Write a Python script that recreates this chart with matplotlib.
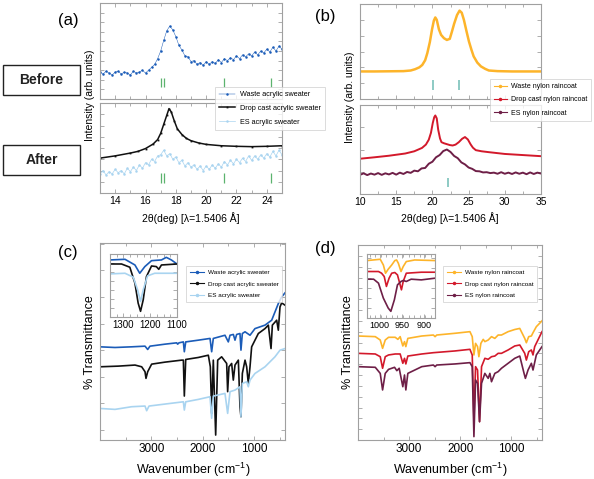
import matplotlib.pyplot as plt
import numpy as np
from matplotlib.patches import Rectangle
from matplotlib.lines import Line2D

plt.rcParams['font.family'] = ['Liberation Sans', 'DejaVu Sans']
plt.rcParams['mathtext.fontset'] = 'custom'
plt.rcParams['mathtext.rm'] = 'Liberation Sans'

# ---------------- XRD (a): acrylic sweater ----------------
xa_grid = np.linspace(13, 25, 61)
waste_acr = [2.8, 2.6, 2.9, 2.7, 2.5, 2.8, 2.9, 2.6, 2.8, 2.7,
             2.5, 2.9, 2.7, 2.8, 3.0, 2.7, 3.0, 3.3, 3.6, 4.2,
             5.0, 6.1, 7.1, 7.6, 7.2, 6.5, 5.6, 5.1, 4.5, 4.4,
             3.9, 4.0, 3.6, 3.8, 3.5, 3.9, 3.6, 3.9, 3.7, 4.1,
             3.8, 4.2, 4.0, 4.3, 4.1, 4.5, 4.2, 4.6, 4.4, 4.7,
             4.5, 4.9, 4.6, 5.0, 4.8, 5.2, 4.9, 5.4, 5.0, 5.5, 5.2]
es_acr = [1.7, 2.0, 1.6, 1.9, 1.7, 2.1, 1.8, 2.0, 1.7, 2.2,
          1.9, 2.3, 2.0, 2.5, 2.2, 2.7, 2.5, 3.0, 2.8, 3.3,
          3.4, 3.8, 3.3, 3.5, 3.0, 3.2, 2.7, 2.9, 2.4, 2.7,
          2.3, 2.5, 2.1, 2.4, 2.0, 2.4, 2.1, 2.5, 2.2, 2.6,
          2.3, 2.8, 2.5, 2.9, 2.6, 3.0, 2.7, 3.1, 2.8, 3.3,
          2.9, 3.3, 3.0, 3.4, 3.1, 3.5, 3.2, 3.7, 3.3, 3.8, 3.4]
drop_acr_x = [13, 14, 15, 15.5, 16, 16.5, 16.8, 17.0, 17.2, 17.4, 17.55, 17.7,
              17.9, 18.1, 18.4, 18.7, 19.0, 19.5, 20, 21, 22, 23, 24, 25]
drop_acr_y = [3.1, 3.3, 3.55, 3.7, 3.95, 4.35, 4.75, 5.3, 6.1, 6.9, 7.5, 7.2,
              6.4, 5.7, 5.2, 4.85, 4.65, 4.45, 4.32, 4.2, 4.15, 4.12, 4.15, 4.2]
ref_a = [17.0, 17.2, 21.2, 24.3]

# ---------------- XRD (b): nylon raincoat ----------------
waste_nyl_x = [10, 12, 14, 16, 17, 17.6, 18.2, 18.6, 19.0, 19.3, 19.65, 19.95, 20.2,
               20.4, 20.6, 20.9, 21.2, 21.6, 22.0, 22.4, 22.7, 23.0, 23.4, 23.75,
               24.05, 24.35, 24.7, 25.05, 25.4, 25.7, 26.2, 26.7, 27.3, 27.8, 29,
               31, 33, 35]
waste_nyl_y = [1.74, 1.74, 1.75, 1.76, 1.8, 1.88, 2.0, 2.15, 2.45, 2.9, 3.6, 4.4, 4.95,
               5.15, 5.0, 4.4, 4.05, 3.84, 3.73, 3.8, 4.26, 4.75, 5.3, 5.58,
               5.45, 5.0, 4.3, 3.63, 3.1, 2.69, 2.3, 2.06, 1.9, 1.8, 1.76,
               1.74, 1.74, 1.74]
drop_nyl_x = [10, 12, 14, 16.25, 17.5, 18.56, 19.1, 19.5, 19.8, 20.05, 20.25, 20.4,
              20.6, 20.8, 21.05, 21.25, 21.6, 22.0, 22.4, 22.8, 23.2, 23.65, 24.1,
              24.5, 24.9, 25.3, 25.6, 26.0, 26.8, 27.8, 30, 32.5, 35]
drop_nyl_y = [1.585, 1.65, 1.72, 1.82, 1.92, 2.07, 2.22, 2.44, 2.75, 3.19, 3.45, 3.53,
              3.4, 2.89, 2.5, 2.33, 2.28, 2.24, 2.2, 2.18, 2.22, 2.33, 2.48,
              2.56, 2.45, 2.22, 2.08, 1.97, 1.92, 1.88, 1.8, 1.75, 1.7]
es_nyl_x = np.linspace(10, 35, 51)
es_nyl_y = [0.86, 0.93, 0.85, 0.92, 0.87, 0.94, 0.86, 0.93, 0.88, 0.95,
            0.87, 0.96, 0.90, 0.99, 0.95, 1.05, 1.02, 1.15, 1.17, 1.36,
            1.45, 1.65, 1.75, 1.93, 2.00, 1.89, 1.71, 1.61, 1.42, 1.33,
            1.19, 1.13, 1.03, 1.02, 0.97, 0.98, 0.94, 0.96, 0.91, 0.98,
            0.91, 0.96, 0.90, 0.97, 0.91, 0.96, 0.89, 0.97, 0.90, 0.96, 0.92]
ref_b_top = [20.05, 23.65]
ref_b_bot = [22.2]

# ---------------- FTIR (c): acrylic sweater ----------------
c_waste_x = [4000, 3708, 3384, 3124, 3072, 3027, 2735, 2508, 2489, 2463, 2378, 2359,
             2332, 2087, 1859, 1827, 1795, 1568, 1503, 1470, 1405, 1373, 1341, 1276,
             1257, 1230, 1178, 1081, 984, 789, 659, 530, 465, 400]
c_waste_y = [3.125, 3.10, 3.125, 3.15, 3.025, 3.15, 3.225, 3.275, 3.225, 3.275, 3.31, 2.94,
             3.31, 3.375, 3.44, 2.94, 3.44, 3.56, 3.31, 3.56, 3.59, 3.375, 3.59, 3.625,
             3.0, 3.625, 3.69, 3.56, 3.81, 3.94, 4.125, 4.75, 5.0, 5.15]
c_drop_x = [4000, 3643, 3319, 3189, 3124, 3105, 3072, 2995, 2735, 2411, 2378, 2359,
            2332, 2087, 1892, 1853, 1827, 1795, 1749, 1710, 1633, 1535, 1516, 1490,
            1438, 1406, 1373, 1308, 1276, 1257, 1230, 1178, 1146, 1114, 1081, 1049,
            919, 789, 724, 672, 646, 562, 530, 497, 465, 400]
c_drop_y = [2.375, 2.4, 2.44, 2.375, 2.19, 1.94, 2.19, 2.475, 2.55, 2.625, 2.625, 1.275,
            2.65, 2.725, 2.81, 2.375, 0.625, 2.625, -0.19, 2.625, 2.75, 2.5, 1.44, 2.375,
            2.5, 1.875, 2.44, 2.625, 0.875, 0.5, 2.125, 2.625, 2.375, 1.75, 2.375, 3.125,
            3.625, 3.81, 3.94, 3.06, 3.94, 4.125, 3.75, 4.625, 4.775, 4.69]
c_es_x = [4000, 3708, 3384, 3124, 3092, 3046, 2735, 2378, 2359, 2332, 2087, 1859,
          1827, 1795, 1568, 1516, 1470, 1373, 1276, 1257, 1230, 1146, 1114, 1081,
          984, 789, 595, 497, 400]
c_es_y = [0.81, 0.775, 0.875, 0.9, 0.725, 0.9, 0.975, 1.06, 0.75, 1.06, 1.15, 1.25,
          0.44, 1.275, 1.375, 0.625, 1.44, 1.5, 1.625, 0.5, 1.75, 1.81, 1.625, 1.875,
          2.125, 2.375, 2.75, 3.0, 3.06]
ci_waste_x = [1350, 1294, 1257, 1239, 1220, 1195, 1158, 1140, 1121, 1100]
ci_waste_y = [6.34, 6.41, 5.78, 4.86, 5.6, 6.26, 6.34, 6.63, 6.34, 5.89]
ci_drop_x = [1350, 1307, 1276, 1257, 1245, 1236, 1226, 1214, 1195, 1177, 1168, 1158, 1100]
ci_drop_y = [5.89, 5.89, 5.53, 3.76, 1.55, 0.63, 1.92, 4.49, 5.67, 5.6, 5.3, 5.78, 5.89]
ci_es_x = [1350, 1294, 1263, 1247, 1236, 1226, 1210, 1183, 1100]
ci_es_y = [4.79, 4.86, 4.42, 3.02, 1.73, 3.02, 4.57, 4.86, 4.86]

# ---------------- FTIR (d): nylon raincoat ----------------
d_x = [4000, 3662, 3565, 3519, 3467, 3402, 3272, 3220, 3175, 3123, 3090, 3064, 3025,
       2752, 2525, 2492, 2460, 2103, 1810, 1765, 1732, 1700, 1661, 1635, 1596, 1550,
       1518, 1453, 1388, 1323, 1258, 1193, 1063, 933, 835, 738, 706, 660, 608, 576,
       511, 400]
d_waste_y = [9.6, 9.54, 9.23, 8.46, 9.23, 9.48, 9.48, 9.29, 9.54, 8.68, 9.08, 8.62, 9.38,
             9.6, 9.69, 9.54, 9.69, 9.85, 10.0, 9.54, 7.85, 8.92, 8.62, 7.69, 8.92, 9.29,
             9.08, 9.23, 9.54, 9.38, 9.69, 9.69, 10.0, 10.2, 10.3, 9.38, 8.98, 9.54, 9.6, 9.9,
             10.46, 11.0]
d_drop_x = [4000, 3662, 3565, 3519, 3467, 3402, 3272, 3175, 3123, 3090, 3064, 3025, 2752,
            2525, 2103, 1810, 1765, 1732, 1700, 1661, 1622, 1583, 1518, 1453, 1388, 1323,
            1258, 1193, 1063, 933, 835, 738, 706, 660, 608, 576, 543, 400]
d_drop_y = [8.0, 7.94, 7.69, 6.62, 7.69, 7.85, 7.94, 7.94, 7.08, 7.54, 7.02, 7.75, 7.94,
            8.06, 8.22, 8.37, 7.85, 1.85, 6.77, 6.46, 1.69, 6.77, 7.54, 7.45, 7.69, 7.75,
            8.0, 8.0, 8.31, 8.68, 8.77, 8.0, 7.38, 8.15, 8.31, 7.85, 8.62, 10.0]
d_es_x = [4000, 3662, 3565, 3519, 3467, 3402, 3285, 3240, 3194, 3123, 3090, 3064, 3025,
          2752, 2525, 2492, 2460, 2103, 1810, 1765, 1732, 1700, 1661, 1622, 1583, 1518,
          1453, 1420, 1388, 1323, 1258, 1193, 1063, 933, 835, 751, 725, 673, 608, 576,
          511, 400]
d_es_y = [6.77, 6.71, 6.15, 4.62, 6.15, 6.52, 6.71, 6.4, 6.62, 4.92, 6.0, 4.62, 6.15,
          6.77, 6.92, 6.77, 6.92, 7.02, 7.14, 6.77, 0.31, 5.54, 5.23, 1.69, 5.23, 6.15,
          5.69, 6.15, 5.38, 6.15, 6.31, 6.62, 7.08, 7.54, 7.75, 6.15, 5.69, 6.46, 7.08, 6.46,
          7.85, 8.62]
di_waste_x = [1029, 999, 992, 987, 981, 973, 966, 962, 958, 952, 947, 940, 921, 875]
di_waste_y = [5.77, 5.9, 5.33, 4.5, 4.9, 5.33, 5.77, 5.83, 5.5, 4.67, 5.17, 5.67, 5.83, 5.77]
di_drop_x = [1029, 1003, 996, 990, 985, 979, 973, 966, 960, 955, 951, 947, 940, 906, 875]
di_drop_y = [4.67, 4.67, 4.5, 4.17, 3.17, 4.0, 4.5, 4.57, 4.33, 3.5, 2.83, 3.67, 4.5, 4.6, 4.6]
di_es_x = [1029, 1014, 1003, 992, 981, 975, 967, 960, 952, 947, 940, 929, 906, 875]
di_es_y = [3.9, 3.9, 3.5, 2.0, 1.0, 0.67, 1.83, 3.33, 3.67, 3.77, 3.67, 3.9, 3.83, 4.0]

acr_labels = ["Waste acrylic sweater", "Drop cast acrylic sweater", "ES acrylic sweater"]
nyl_labels = ["Waste nylon raincoat", "Drop cast nylon raincoat", "ES nylon raincoat"]

C_WASTE_A = '#1b5cb8'
C_DROP_A = '#111111'
C_ES_A = '#a9d4f0'
C_WASTE_N = '#fdb42a'
C_DROP_N = '#d3192b'
C_ES_N = '#6e1f47'
FRAME = '#a0a0a0'

W, H = 594, 479
fig = plt.figure(figsize=(W / 100, H / 100), dpi=100)


def box(l, t, r, b):
    return [l / W, 1 - b / H, (r - l) / W, (b - t) / H]


def style(ax, labelsize=7.5, xlabels=True):
    for s in ax.spines.values():
        s.set_color(FRAME)
        s.set_linewidth(0.8)
    ax.tick_params(which='both', direction='in', top=True, right=True, color=FRAME,
                   width=0.6, labelsize=labelsize, pad=2, labelleft=False,
                   labelbottom=xlabels)
    ax.tick_params(which='major', length=3)
    ax.tick_params(which='minor', length=2)


def ftext(x, y, s, **kw):
    fig.text(x / W, 1 - y / H, s, ha='center', va='center', **kw)


def legend(ax, handles, labels, l, t, fs, hlen=2.2):
    lg = ax.legend(handles, labels, loc='upper left', bbox_to_anchor=(l / W, 1 - t / H),
                   bbox_transform=fig.transFigure, fontsize=fs, frameon=True,
                   fancybox=False, handlelength=hlen, handletextpad=0.6,
                   borderpad=0.6, labelspacing=0.9, borderaxespad=0)
    lg.get_frame().set_edgecolor('#cccccc')
    lg.get_frame().set_linewidth(0.6)
    return lg


# ---- panel (a) ----
a1 = fig.add_axes(box(100, 3, 282, 99))
a2 = fig.add_axes(box(100, 103, 282, 193))
h_wa, = a1.plot(xa_grid, waste_acr, '-o', color=C_WASTE_A, lw=0.35, ms=1.8, mew=0)
h_da, = a2.plot(drop_acr_x, drop_acr_y, '-s', color=C_DROP_A, lw=1.1, ms=1.3, mew=0)
h_ea, = a2.plot(xa_grid, es_acr, '-o', color=C_ES_A, lw=0.5, ms=1.8, mew=0)
a1.vlines(ref_a, 1.2, 2.2, color='#5cb36e', lw=0.9)
a2.vlines(ref_a, 0.9, 1.8, color='#5cb36e', lw=0.9)
for ax, top in ((a1, 10), (a2, 8)):
    ax.set_xlim(13, 25)
    ax.set_ylim(0, top)
    ax.set_xticks(np.arange(14, 25, 2))
    ax.set_xticks(np.arange(13, 26, 1), minor=True)
    ax.set_yticks(np.arange(1, top, 1))
style(a1, xlabels=False)
style(a2)
legend(a2, [h_wa, h_da, h_ea], acr_labels, 215, 87, 5.2)

# ---- panel (b) ----
b1 = fig.add_axes(box(360, 4, 541, 99))
b2 = fig.add_axes(box(360, 105, 541, 194))
b1.plot(waste_nyl_x, waste_nyl_y, '-', color=C_WASTE_N, lw=1.8)
b2.plot(drop_nyl_x, drop_nyl_y, '-', color=C_DROP_N, lw=1.4)
b2.plot(es_nyl_x, es_nyl_y, '-', color=C_ES_N, lw=1.4)
b1.vlines(ref_b_top, 0.55, 1.17, color='#6fbcb4', lw=1.1)
b2.vlines(ref_b_bot, 0.3, 0.74, color='#6fbcb4', lw=1.1)
for ax, top in ((b1, 6), (b2, 4)):
    ax.set_xlim(10, 35)
    ax.set_ylim(0, top)
    ax.set_xticks(np.arange(10, 36, 5))
    ax.set_xticks(np.arange(10, 36, 2.5), minor=True)
    ax.set_yticks(np.arange(1, top, 1))
style(b1, xlabels=False)
style(b2)
hl = [Line2D([], [], color=c, lw=0.8, marker='o', ms=1.5) for c in (C_WASTE_N, C_DROP_N, C_ES_N)]
legend(b2, hl, nyl_labels, 490, 79, 5.0, hlen=1.8)

# ---- panel (c) ----
c1 = fig.add_axes(box(100, 243, 285, 440))
c1.plot(c_waste_x, c_waste_y, color=C_WASTE_A, lw=1.2)
c1.plot(c_drop_x, c_drop_y, color=C_DROP_A, lw=1.2)
c1.plot(c_es_x, c_es_y, color=C_ES_A, lw=1.2)
c1.set_xlim(4000, 400)
c1.set_ylim(-0.375, 7.025)
c1.set_xticks([3000, 2000, 1000])
c1.set_xticks(np.arange(500, 4000, 500), minor=True)
c1.set_yticks(np.arange(0, 7.01, 1))
style(c1, labelsize=8.5)
hl = [Line2D([], [], color=c, lw=0.8, marker='o', ms=1.5) for c in (C_WASTE_A, C_DROP_A, C_ES_A)]
legend(c1, hl, acr_labels, 186, 266, 4.6)

ci = fig.add_axes(box(110, 254, 177, 317))
ci.plot(ci_waste_x, ci_waste_y, color=C_WASTE_A, lw=1.2)
ci.plot(ci_drop_x, ci_drop_y, color=C_DROP_A, lw=1.2)
ci.plot(ci_es_x, ci_es_y, color=C_ES_A, lw=1.2)
ci.set_xlim(1350, 1100)
ci.set_ylim(0, 7)
ci.set_xticks([1300, 1200, 1100])
ci.set_xticks(np.arange(1125, 1350, 25), minor=True)
ci.set_yticks(np.arange(1, 7, 1))
style(ci, labelsize=7)

# ---- panel (d) ----
d1 = fig.add_axes(box(358, 245, 542, 440))
d1.plot(d_x, d_waste_y, color=C_WASTE_N, lw=1.2)
d1.plot(d_drop_x, d_drop_y, color=C_DROP_N, lw=1.2)
d1.plot(d_es_x, d_es_y, color=C_ES_N, lw=1.2)
d1.set_xlim(4000, 400)
d1.set_ylim(0, 18)
d1.set_xticks([3000, 2000, 1000])
d1.set_xticks(np.arange(500, 4000, 500), minor=True)
d1.set_yticks(np.arange(1, 18, 1))
style(d1, labelsize=8.5)
hl = [Line2D([], [], color=c, lw=0.8, marker='o', ms=1.5) for c in (C_WASTE_N, C_DROP_N, C_ES_N)]
legend(d1, hl, nyl_labels, 443, 266, 4.6)

di = fig.add_axes(box(367, 254, 435, 318))
di.plot(di_waste_x, di_waste_y, color=C_WASTE_N, lw=1.2)
di.plot(di_drop_x, di_drop_y, color=C_DROP_N, lw=1.2)
di.plot(di_es_x, di_es_y, color=C_ES_N, lw=1.2)
di.set_xlim(1029, 875)
di.set_ylim(0, 6.43)
di.set_xticks([1000, 950, 900])
di.set_xticks(np.arange(885, 1030, 12.5), minor=True)
di.set_yticks(np.arange(1, 7, 1))
style(di, labelsize=6.5)

# ---- texts ----
xrd_label = '2\u03b8(deg) [\u03bb=1.5406 \u00c5]'
ftext(191, 218, xrd_label, fontsize=7.5)
ftext(450, 218, xrd_label, fontsize=7.5)
ftext(90, 95, 'Intensity (arb. units)', fontsize=7.5, rotation=90)
ftext(350, 97, 'Intensity (arb. units)', fontsize=7.5, rotation=90)
ftext(193, 470, 'Wavenumber (cm$^{-1}$)', fontsize=9)
ftext(450, 470, 'Wavenumber (cm$^{-1}$)', fontsize=9)
ftext(90, 342, '% Transmittance', fontsize=9, rotation=90)
ftext(348, 342, '% Transmittance', fontsize=9, rotation=90)
ftext(68, 20, '(a)', fontsize=12)
ftext(325, 17, '(b)', fontsize=12)
ftext(68, 252, '(c)', fontsize=12)
ftext(325, 249, '(d)', fontsize=12)

for (t, b, s) in ((65, 95, 'Before'), (145, 175, 'After')):
    fig.patches.append(Rectangle((3 / W, 1 - b / H), 77 / W, (b - t) / H,
                                 transform=fig.transFigure, fill=False,
                                 edgecolor='#222222', lw=1.0))
    ftext(41.5, (t + b) / 2, s, fontsize=10, fontweight='bold', color='#222222')

fig.savefig('out.png', dpi=100)
